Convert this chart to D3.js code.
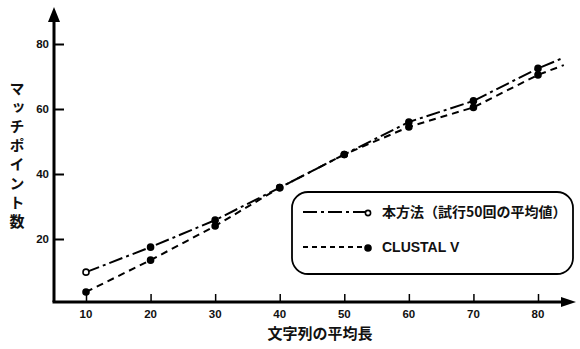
<!DOCTYPE html>
<html><head><meta charset="utf-8">
<script src="https://cdn.jsdelivr.net/npm/d3@7"></script>
<style>
body{margin:0;background:#fff;}
svg{display:block;}
.num{font-family:"Liberation Sans",Arial,sans-serif;font-weight:bold;font-size:11.5px;fill:#111;}
.jp{font-family:"Noto Sans CJK JP",sans-serif;font-weight:bold;fill:#111;}
</style></head><body>
<script>
const xTicks = [10, 20, 30, 40, 50, 60, 70, 80];
const yTicks = [20, 40, 60, 80];
const xLen = [10, 20, 30, 40, 50, 60, 70, 80, 84];
const proposed = [9.8, 17.5, 25.8, 35.8, 46, 56, 62.5, 72.5, 75.8];
const clustal = [3.7, 13.5, 24, 35.8, 46, 54.5, 60.5, 70.5, 73.5];
const seriesNames = ["本方法（試行50回の平均値）", "CLUSTAL V"];
const xTitle = "文字列の平均長";
const yTitle = "マッチポイント数";

const W = 580, H = 349;
const svg = d3.select("body").append("svg").attr("width", W).attr("height", H);
const x = d3.scaleLinear().domain([10, 80]).range([86, 538]);
const y = d3.scaleLinear().domain([0, 80]).range([304, 44]);
const x0 = 54, y0 = 302;

// axes lines
svg.append("line").attr("x1", x0).attr("y1", y0).attr("x2", x0).attr("y2", 20)
  .attr("stroke", "#000").attr("stroke-width", 3);
svg.append("path").attr("d", `M${x0-6},${22} L${x0},${7} L${x0+6},${22} Z`).attr("fill", "#000");
svg.append("line").attr("x1", x0-1.5).attr("y1", y0).attr("x2", 562).attr("y2", y0)
  .attr("stroke", "#000").attr("stroke-width", 3);
svg.append("path").attr("d", `M${561},${y0-5} L${576},${y0} L${561},${y0+5} Z`).attr("fill", "#000");

// y ticks
const yAxis = d3.axisRight(y).tickValues(yTicks).tickSize(10).tickFormat("");
const gy = svg.append("g").attr("transform", `translate(${x0},0)`).call(yAxis);
gy.select(".domain").remove();
gy.selectAll(".tick line").attr("stroke", "#000").attr("stroke-width", 2);
svg.selectAll(".ylab").data(yTicks).enter().append("text").attr("class", "num")
  .attr("x", x0 - 5).attr("y", d => y(d) + 4).attr("text-anchor", "end").text(d => d);

// x ticks
const xAxis = d3.axisTop(x).tickValues(xTicks).tickSize(8).tickFormat("");
const gx = svg.append("g").attr("transform", `translate(0,${y0})`).call(xAxis);
gx.select(".domain").remove();
gx.selectAll(".tick line").attr("stroke", "#000").attr("stroke-width", 1.5);
svg.selectAll(".xlab").data(xTicks).enter().append("text").attr("class", "num")
  .attr("x", d => x(d)).attr("y", 318).attr("text-anchor", "middle").text(d => d);

// titles
svg.append("text").attr("class", "jp").attr("x", 320).attr("y", 339)
  .attr("text-anchor", "middle").attr("font-size", 15).text(xTitle);
svg.append("text").attr("class", "jp").attr("x", 17).attr("y", 81)
  .attr("font-size", 15).attr("letter-spacing", 4)
  .style("writing-mode", "vertical-rl").style("text-orientation", "upright")
  .text(yTitle);

const line = d3.line().x((d, i) => x(xLen[i])).y(d => y(d));
const styles = [
  {dash: "14,4,3,4"},
  {dash: "7,5"}
];
[proposed, clustal].forEach((s, k) => {
  svg.append("path").datum(s).attr("d", line).attr("fill", "none")
    .attr("stroke", "#000").attr("stroke-width", 2).attr("stroke-dasharray", styles[k].dash);
  svg.selectAll(".m" + k).data(s.slice(0, 8)).enter().append("circle")
    .attr("cx", (d, i) => x(xLen[i])).attr("cy", d => y(d))
    .attr("r", 3)
    .attr("fill", (d, i) => (k === 0 && i === 0) ? "#fff" : "#000")
    .attr("stroke", "#000").attr("stroke-width", 1.6);
});

// legend
svg.append("rect").attr("x", 292).attr("y", 192).attr("width", 281).attr("height", 82)
  .attr("rx", 16).attr("ry", 16).attr("fill", "#fff").attr("stroke", "#000").attr("stroke-width", 1.8);
const ly = [212, 247];
seriesNames.forEach((n, k) => {
  svg.append("line").attr("x1", 303).attr("x2", 366).attr("y1", ly[k]).attr("y2", ly[k])
    .attr("stroke", "#000").attr("stroke-width", 1.8).attr("stroke-dasharray", k === 0 ? "14,4,3,4" : "5,4");
  svg.append("circle").attr("cx", 368).attr("cy", ly[k] + 1).attr("r", k === 0 ? 2.6 : 3)
    .attr("fill", k === 0 ? "#fff" : "#000").attr("stroke", "#000").attr("stroke-width", 1.6);
  svg.append("text").attr("class", k === 0 ? "jp" : "num").attr("x", 382).attr("y", ly[k] + 5)
    .style("font-size", "14px").text(n);
});
</script>
</body></html>
